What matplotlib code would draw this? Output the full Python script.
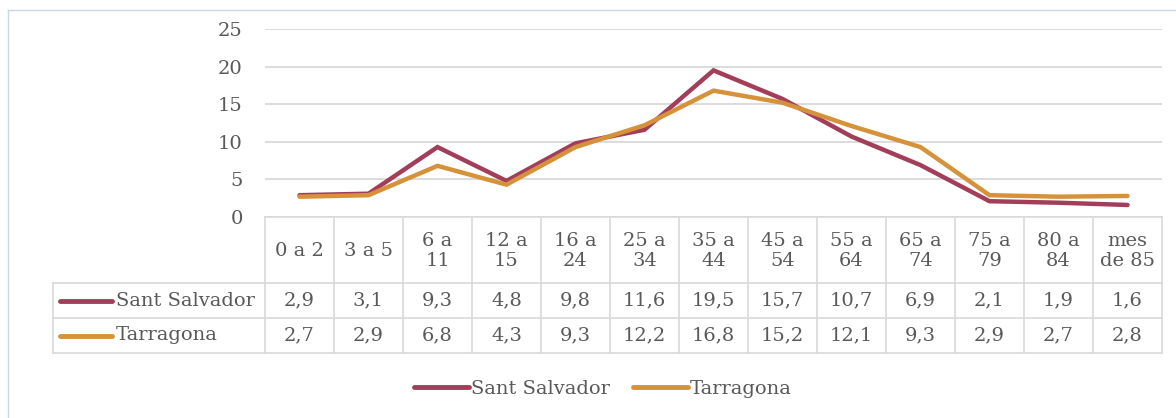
import matplotlib
matplotlib.use("Agg")
import matplotlib.pyplot as plt
from matplotlib.lines import Line2D

categories = ["0 a 2", "3 a 5", "6 a\n11", "12 a\n15", "16 a\n24", "25 a\n34",
              "35 a\n44", "45 a\n54", "55 a\n64", "65 a\n74", "75 a\n79",
              "80 a\n84", "mes\nde 85"]
sant_salvador = [2.9, 3.1, 9.3, 4.8, 9.8, 11.6, 19.5, 15.7, 10.7, 6.9, 2.1, 1.9, 1.6]
tarragona = [2.7, 2.9, 6.8, 4.3, 9.3, 12.2, 16.8, 15.2, 12.1, 9.3, 2.9, 2.7, 2.8]
series_names = ["Sant Salvador", "Tarragona"]
y_ticks = [0, 5, 10, 15, 20, 25]

colors = ["#A33E5A", "#D6923A"]
text_color = "#595959"
grid_color = "#D9D9D9"
FONT = "DejaVu Serif"
FS = 14

W, H = 1176, 418
fig = plt.figure(figsize=(W / 100, H / 100), dpi=100)

# overlay in pixel coordinates for frame and table
ov = fig.add_axes([0, 0, 1, 1])
ov.set_xlim(0, W)
ov.set_ylim(H, 0)
ov.axis("off")

# outer chart frame
ov.plot([8, W + 5], [10, 10], color="#C9D6EE", lw=1)
ov.plot([8, 8], [10, H + 5], color="#C9D6EE", lw=1)

# plot area geometry (pixels)
x0, x1 = 265, 1162
y_top, y_zero = 29, 217
n = len(categories)
cw = (x1 - x0) / n
row_lines = [y_zero, 283, 318, 353]
tbl_left = 53

ax = fig.add_axes([x0 / W, 1 - y_zero / H, (x1 - x0) / W, (y_zero - y_top) / H])
ax.set_facecolor("none")
xs = list(range(n))
ax.plot(xs, sant_salvador, color=colors[0], lw=3.2, solid_capstyle="round",
        solid_joinstyle="miter", label=series_names[0], zorder=3)
ax.plot(xs, tarragona, color=colors[1], lw=3.2, solid_capstyle="round",
        solid_joinstyle="miter", label=series_names[1], zorder=4)
ax.set_xlim(-0.5, n - 0.5)
ax.set_ylim(0, 25)
ax.set_yticks(y_ticks)
ax.set_yticklabels([str(t) for t in y_ticks], fontfamily=FONT, fontsize=FS,
                   color=text_color)
ax.set_xticks([])
ax.tick_params(axis="y", length=0, pad=16)
ax.grid(axis="y", color=grid_color, lw=1.3)
for s in ax.spines.values():
    s.set_visible(False)

# data table
lw_t = 1.2
ov.plot([x0, x1], [row_lines[0], row_lines[0]], color=grid_color, lw=lw_t)
for yl in row_lines[1:]:
    ov.plot([tbl_left, x1], [yl, yl], color=grid_color, lw=lw_t)
ov.plot([tbl_left, tbl_left], [row_lines[1], row_lines[3]], color=grid_color, lw=lw_t)
for i in range(n + 1):
    xv = x0 + i * cw
    ov.plot([xv, xv], [row_lines[0], row_lines[3]], color=grid_color, lw=lw_t)

hdr_y = (row_lines[0] + row_lines[1]) / 2 + 1
for i, c in enumerate(categories):
    ov.text(x0 + (i + 0.5) * cw, hdr_y, c, ha="center", va="center",
            fontfamily=FONT, fontsize=FS, color=text_color, linespacing=1.2)

for r, (name, vals) in enumerate(zip(series_names, [sant_salvador, tarragona])):
    yc = (row_lines[r + 1] + row_lines[r + 2]) / 2
    ov.plot([60, 112], [yc, yc], color=colors[r], lw=3.5, solid_capstyle="round")
    ov.text(116, yc, name, ha="left", va="center", fontfamily=FONT, fontsize=FS,
            color=text_color)
    for i, v in enumerate(vals):
        ov.text(x0 + (i + 0.5) * cw, yc, f"{v:.1f}".replace(".", ","),
                ha="center", va="center", fontfamily=FONT, fontsize=FS,
                color=text_color)

# legend
handles = [Line2D([], [], color=colors[0], lw=3.5, solid_capstyle="round"),
           Line2D([], [], color=colors[1], lw=3.5, solid_capstyle="round")]
fig.legend(handles, series_names, loc="center", bbox_to_anchor=(603 / W, 1 - 389 / H),
           ncol=2, frameon=False, handlelength=2.8, handletextpad=0.12,
           columnspacing=1.2, prop={"family": FONT, "size": FS},
           labelcolor=text_color)

fig.savefig("out.png", dpi=100)
